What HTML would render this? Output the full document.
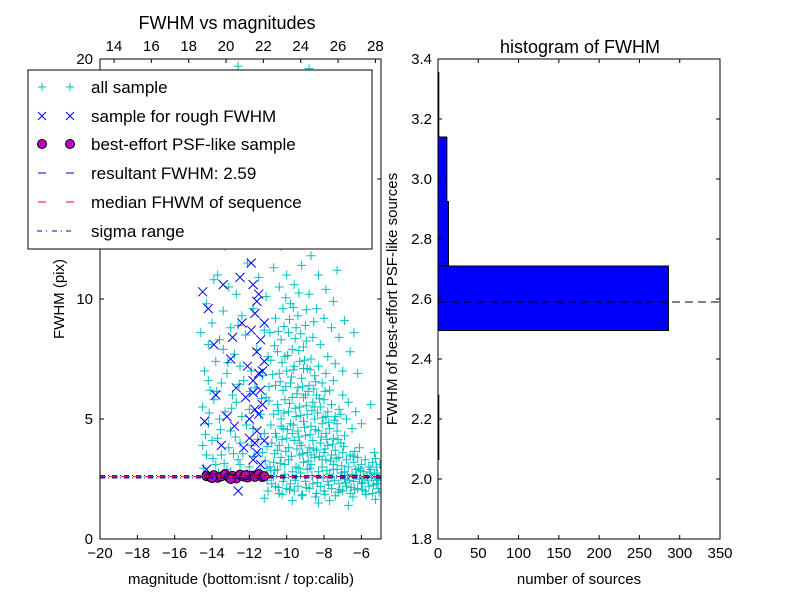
<!DOCTYPE html>
<html><head><meta charset="utf-8"><style>
body{margin:0;background:#fff;}
svg text{font-family:"Liberation Sans","DejaVu Sans",sans-serif;}
</style></head><body>
<svg id="fig" width="800" height="600" xmlns="http://www.w3.org/2000/svg">
<rect width="800" height="600" fill="#fff"/>
<g id="left"></g>
<g id="right"></g>
</svg>
<script>
// ---------- data ----------
const allSample = [
[-14.4,2.6],[-14.3,3.5],[-14.2,4.8],[-14.5,5.5],[-14.1,6.2],[-14.4,7.0],[-14.2,8.1],[-14.0,9.0],[-14.3,9.8],[-13.9,10.8],
[-13.8,3.1],[-13.7,4.2],[-13.6,5.0],[-13.9,5.8],[-13.5,6.5],[-13.8,7.4],[-13.6,8.3],[-13.4,9.5],[-13.7,11.0],[-13.3,12.2],
[-13.2,2.9],[-13.1,3.8],[-13.0,4.5],[-13.3,5.3],[-12.9,6.0],[-13.2,6.9],[-12.8,7.7],[-13.0,8.8],[-12.7,10.2],[-12.9,13.0],
[-12.6,3.3],[-12.5,4.0],[-12.4,5.1],[-12.7,5.7],[-12.3,6.6],[-12.5,7.2],[-12.2,8.5],[-12.4,9.3],[-12.1,11.5],[-12.3,14.2],
[-12.0,3.0],[-11.9,3.9],[-11.8,4.6],[-12.0,5.4],[-11.7,6.3],[-11.9,7.0],[-11.6,7.9],[-11.8,9.6],[-11.5,10.9],[-11.7,12.8],
[-11.4,2.8],[-11.3,3.6],[-11.2,4.4],[-11.4,5.2],[-11.1,5.9],[-11.3,6.8],[-11.0,7.6],[-11.2,8.7],[-11.1,10.1],[-11.3,15.0],
[-14.5,3.9],[-14.0,4.1],[-13.5,3.5],[-13.0,2.8],[-12.5,3.1],[-14.2,6.6],[-13.4,7.9],[-12.6,8.9],[-14.6,8.6],[-13.1,10.5],
[-11.0,2.0],[-10.8,2.3],[-10.6,2.2],[-10.4,1.9],[-10.2,2.4],[-10.0,2.1],[-9.8,2.3],[-9.6,2.0],[-9.4,2.2],[-9.2,1.8],
[-9.0,2.4],[-8.8,2.1],[-8.6,2.3],[-8.4,1.9],[-8.2,2.2],[-8.0,2.0],[-7.8,2.4],[-7.6,2.1],[-7.4,1.8],[-7.2,2.3],
[-7.0,2.0],[-6.8,2.2],[-6.6,1.9],[-6.4,2.4],[-6.2,2.1],[-6.0,2.3],[-5.8,2.0],[-5.6,2.2],[-5.4,1.9],[-5.2,2.3],
[-10.9,3.0],[-10.7,3.2],[-10.5,2.9],[-10.3,3.4],[-10.1,3.1],[-9.9,3.3],[-9.7,2.8],[-9.5,3.0],[-9.3,3.5],[-9.1,3.2],
[-8.9,2.9],[-8.7,3.1],[-8.5,3.4],[-8.3,2.8],[-8.1,3.0],[-7.9,3.3],[-7.7,2.7],[-7.5,3.1],[-7.3,2.9],[-7.1,2.6],
[-6.9,2.8],[-6.7,3.0],[-6.5,2.7],[-6.3,2.9],[-6.1,2.5],[-5.9,2.8],[-5.7,2.6],[-5.5,2.9],[-5.3,2.7],[-5.1,2.5],
[-10.8,4.0],[-10.6,4.4],[-10.4,3.9],[-10.2,4.6],[-10.0,4.2],[-9.8,4.8],[-9.6,4.1],[-9.4,4.5],[-9.2,3.9],[-9.0,4.3],
[-8.8,3.8],[-8.6,4.1],[-8.4,3.7],[-8.2,4.0],[-8.0,3.6],[-7.8,3.9],[-7.6,3.5],[-7.4,3.7],[-7.2,3.4],[-7.0,3.6],
[-6.8,3.3],[-6.6,3.5],[-6.4,3.2],[-6.2,3.4],[-6.0,3.1],[-5.8,3.3],[-5.6,3.0],[-5.4,3.2],[-5.2,3.0],[-5.0,3.1],
[-10.7,5.2],[-10.5,5.6],[-10.3,5.0],[-10.1,5.8],[-9.9,5.3],[-9.7,5.9],[-9.5,5.1],[-9.3,5.5],[-9.1,4.9],[-8.9,5.2],
[-8.7,4.7],[-8.5,5.0],[-8.3,4.5],[-8.1,4.8],[-7.9,4.4],[-7.7,4.6],[-7.5,4.2],[-7.3,4.5],[-7.1,4.0],[-6.9,4.3],
[-10.6,6.4],[-10.4,6.9],[-10.2,6.2],[-10.0,7.0],[-9.8,6.5],[-9.6,7.2],[-9.4,6.3],[-9.2,6.7],[-9.0,6.0],[-8.8,6.4],
[-8.6,5.7],[-8.4,6.0],[-8.2,5.5],[-8.0,5.8],[-7.8,5.3],[-7.6,5.6],[-7.4,5.1],[-7.2,5.4],[-6.8,5.0],[-6.5,4.6],
[-10.5,7.8],[-10.3,8.3],[-10.1,7.6],[-9.9,8.6],[-9.7,7.9],[-9.5,8.8],[-9.3,7.4],[-9.1,8.0],[-8.9,7.1],[-8.7,7.5],
[-8.5,6.8],[-8.3,7.2],[-8.1,6.5],[-7.9,6.9],[-7.7,6.2],[-7.5,6.6],[-7.0,6.0],[-6.7,5.7],[-6.3,5.3],[-6.0,4.8],
[-10.6,9.2],[-10.2,9.6],[-9.8,9.8],[-9.4,9.3],[-9.0,8.9],[-8.6,8.4],[-8.2,8.1],[-7.8,7.6],[-7.4,7.3],[-7.0,7.0],
[-10.4,10.5],[-10.0,11.0],[-9.6,10.6],[-9.2,11.4],[-8.8,10.2],[-8.4,9.6],[-8.0,9.2],[-7.6,8.8],[-7.2,8.4],[-6.6,7.8],
[-10.3,12.2],[-9.9,12.8],[-9.5,13.3],[-9.1,12.5],[-8.7,11.8],[-8.3,11.0],[-7.9,10.4],[-7.5,9.9],[-6.9,9.1],[-6.4,8.6],
[-10.1,14.5],[-9.7,15.3],[-9.3,14.1],[-8.9,13.6],[-8.5,13.0],[-8.1,12.4],[-9.4,16.5],[-8.6,17.2],[-9.0,18.4],[-8.8,19.6],
[-10.8,16.0],[-11.5,18.8],[-12.0,17.5],[-13.0,16.3],[-14.2,19.0],[-12.6,19.7],[-7.9,14.6],[-7.3,11.2],[-6.2,6.9],[-5.5,5.6],
[-10.9,8.6],[-10.7,11.3],[-10.9,13.2],[-10.5,3.7],[-9.9,3.8],[-9.3,4.0],[-8.7,3.5],[-8.1,3.3],[-7.5,2.9],[-6.9,2.5],
[-10.3,4.7],[-9.7,4.4],[-9.1,5.9],[-8.5,5.5],[-7.9,5.1],[-7.3,4.8],[-8.9,3.6],[-9.5,2.6],[-10.1,2.7],[-10.7,2.6],
[-8.3,1.5],[-7.7,1.6],[-6.7,1.4],[-9.7,1.6],[-11.2,1.7],[-5.3,3.6],[-5.1,2.1],[-6.1,3.8],[-7.1,5.2],[-9.1,7.1]
];
const allSampleDense = [
[-10.45,2.15],[-10.15,2.55],[-9.85,2.05],[-9.55,2.45],[-9.25,2.75],[-8.95,2.15],[-8.65,2.65],[-8.35,2.35],[-8.05,2.55],[-7.75,2.25],
[-7.45,2.45],[-7.15,2.05],[-6.85,2.35],[-6.55,2.15],[-6.25,2.65],[-5.95,2.35],[-5.65,2.45],[-5.35,2.25],[-5.15,2.75],[-5.05,1.95],
[-10.35,3.15],[-10.05,3.65],[-9.75,3.45],[-9.45,3.75],[-9.15,3.55],[-8.85,3.25],[-8.55,3.75],[-8.25,3.45],[-7.95,3.75],[-7.65,3.25],
[-7.35,3.35],[-7.05,3.05],[-6.75,2.65],[-6.45,3.45],[-6.15,2.95],[-5.85,2.55],[-5.55,2.75],[-5.25,3.35],[-6.95,3.85],[-6.35,3.65],
[-10.55,4.25],[-10.25,4.15],[-9.95,4.55],[-9.65,4.75],[-9.35,4.25],[-9.05,4.65],[-8.75,4.35],[-8.45,4.55],[-8.15,4.25],[-7.85,4.15],
[-7.55,3.95],[-7.25,4.15],[-10.45,5.35],[-10.15,5.25],[-9.85,5.65],[-9.55,5.45],[-9.25,5.15],[-8.95,5.55],[-8.65,5.35],[-8.35,5.25],
[-8.05,5.05],[-7.75,4.85],[-7.45,4.95],[-10.35,6.55],[-10.05,6.35],[-9.75,6.75],[-9.45,6.05],[-9.15,6.35],[-8.85,6.15],[-8.55,6.25],
[-8.25,5.85],[-7.95,6.15],[-10.25,7.35],[-9.95,7.65],[-9.65,7.05],[-9.35,7.85],[-9.05,7.45],[-8.75,7.05],[-8.45,6.55],[-10.45,8.65],
[-10.15,8.85],[-9.85,9.15],[-9.55,8.35],[-9.25,8.55],[-8.95,8.25],[-10.05,10.05],[-9.65,9.65],[-9.35,10.25],[-8.95,9.55],[-8.55,9.05],
[-11.05,2.45],[-10.85,2.85],[-10.65,3.55],[-10.85,4.75],[-10.95,5.75],[-10.75,6.85],[-10.85,7.45],[-10.65,8.05],[-11.05,3.85],[-10.95,6.35],
[-14.35,4.35],[-14.15,5.25],[-13.95,3.35],[-13.75,6.15],[-13.55,4.55],[-13.35,3.15],[-13.15,7.35],[-12.95,5.45],[-12.75,4.25],[-12.55,6.45],
[-12.35,3.55],[-12.15,4.75],[-11.95,6.15],[-11.75,3.45],[-11.55,4.15],[-11.35,5.85],[-11.15,3.25],[-14.45,2.95],[-13.65,2.75],[-12.85,3.55],
[-9.15,1.85],[-8.45,1.75],[-7.25,1.95],[-6.45,1.75],[-5.75,1.85],[-5.25,1.65],[-6.05,2.85],[-5.45,2.55],[-7.95,1.85],[-10.25,1.85],
[-8.75,2.95],[-7.85,2.85],[-7.05,2.75],[-6.65,2.45],[-6.35,2.05],[-5.95,2.05],[-5.15,2.45],[-9.35,2.95],[-10.65,2.85],[-11.05,2.95]
];
const roughSample = [
[-14.5,10.3],[-14.4,4.9],[-14.3,2.9],[-14.2,9.6],[-13.9,8.1],[-13.8,6.0],[-13.5,3.9],[-13.4,10.6],[-13.2,5.1],[-13.0,7.5],
[-12.9,8.4],[-12.8,4.7],[-12.7,6.3],[-12.6,2.0],[-12.5,10.9],[-12.4,9.0],[-12.3,3.8],[-12.2,5.9],[-12.1,7.2],[-12.0,4.2],
[-11.9,11.5],[-11.9,8.7],[-11.8,6.6],[-11.8,3.3],[-11.7,9.4],[-11.7,5.4],[-11.6,7.8],[-11.6,4.5],[-11.5,10.2],[-11.5,6.9],
[-11.4,3.1],[-11.4,8.3],[-11.3,5.6],[-11.3,12.8],[-11.2,4.1],[-11.2,7.4],[-11.6,9.9],[-11.8,6.1],[-12.0,5.0],[-11.5,5.2],
[-11.4,6.2],[-11.7,4.0],[-11.3,7.0],[-11.9,2.7],[-11.2,9.0],[-11.6,3.6],[-12.1,13.6],[-11.8,10.6]
];
const psfMag = [-14.3,-14.1,-13.9,-13.7,-13.5,-13.3,-13.1,-12.9,-12.7,-12.5,-12.3,-12.1,-11.9,-11.7,-11.5,-11.3,-11.2,-13.0,-12.2,-14.0];
const psfFwhm = [2.62,2.58,2.66,2.55,2.61,2.70,2.57,2.63,2.52,2.68,2.60,2.56,2.64,2.59,2.71,2.58,2.62,2.50,2.66,2.54];
const resultFwhm = 2.59;
const medianFwhm = 2.60;
const sigmaRange = [2.54, 2.64];
const histCounts = [1,0,286,13,11,1];
const histEdges = [2.065,2.28,2.495,2.71,2.925,3.14,3.355];
const xTicksBottom = [-20,-18,-16,-14,-12,-10,-8,-6];
const xTicksTop = [14,16,18,20,22,24,26,28];
const yTicksLeft = [0,5,10,15,20];
const xTicksHist = [0,50,100,150,200,250,300,350];
const yTicksHist = [1.8,2.0,2.2,2.4,2.6,2.8,3.0,3.2,3.4];
const calibOffset = 33.25;

// ---------- helpers ----------
const NS='http://www.w3.org/2000/svg';
function mk(tag,attrs,parent){const e=document.createElementNS(NS,tag);for(const k in attrs)e.setAttribute(k,attrs[k]);parent.appendChild(e);return e;}
const L=document.getElementById('left'), R=document.getElementById('right');
const lx0=100,lx1=381,ly0=59,ly1=539, xmin=-20, xmax=-4.95, ymin=0, ymax=20;
const sx=v=>lx0+(v-xmin)/(xmax-xmin)*(lx1-lx0);
const sy=v=>ly1-(v-ymin)/(ymax-ymin)*(ly1-ly0);
const clip=mk('clipPath',{id:'lc'},L); mk('rect',{x:lx0,y:ly0,width:lx1-lx0,height:ly1-ly0},clip);
const pts=mk('g',{'clip-path':'url(#lc)'},L);
for(const [x,y] of allSample.concat(allSampleDense)){
  const g=mk('path',{d:`M${sx(x)-4.5},${sy(y)}h9M${sx(x)},${sy(y)-4.5}v9`,stroke:'#00bfbf','stroke-width':1},pts);
  
  
}
for(const [x,y] of roughSample){
  const g=mk('path',{d:`M${sx(x)-4.5},${sy(y)-4.5}l9,9M${sx(x)-4.5},${sy(y)+4.5}l9,-9`,stroke:'#0000ff','stroke-width':1},pts);
  
  
}
psfMag.forEach((x,i)=>{
  const c=mk('circle',{cx:sx(x),cy:sy(psfFwhm[i]),r:4.5,fill:'#bf00bf',stroke:'#000','stroke-width':1},pts);
  
  
});
let ln=mk('line',{x1:lx0,x2:lx1,y1:sy(resultFwhm),y2:sy(resultFwhm),stroke:'#0000ff','stroke-dasharray':'6,6'},pts);


ln=mk('line',{x1:lx0,x2:lx1,y1:sy(medianFwhm),y2:sy(medianFwhm),stroke:'#ff0000','stroke-dasharray':'6,6','stroke-dashoffset':3},pts);


for(const s of sigmaRange){
  ln=mk('line',{x1:lx0,x2:lx1,y1:sy(s),y2:sy(s),stroke:'#0000bf','stroke-dasharray':'5,3,1,3'},pts);
  
  
}
mk('rect',{x:lx0,y:ly0,width:lx1-lx0,height:ly1-ly0,fill:'none',stroke:'#000'},L);
for(const t of xTicksBottom){const x=sx(t);
  mk('path',{d:`M${x},${ly1}v-4`,stroke:'#000'},L);
  const tx=mk('text',{x:x,y:558,'font-size':15,'text-anchor':'middle'},L);tx.textContent='\u2212'+Math.abs(t);
  
  
}
for(const t of xTicksTop){const x=sx(t-calibOffset);
  mk('path',{d:`M${x},${ly0}v4`,stroke:'#000'},L);
  const tx=mk('text',{x:x,y:51,'font-size':15,'text-anchor':'middle'},L);tx.textContent=t;
  
  
}
for(const t of yTicksLeft){const y=sy(t);
  mk('path',{d:`M${lx0},${y}h4M${lx1},${y}h-4`,stroke:'#000'},L);
  const tx=mk('text',{x:93,y:y+5,'font-size':15,'text-anchor':'end'},L);tx.textContent=t;
  
  
}
const rx0=438,rx1=720,ry0=59,ry1=539;
const hx=v=>rx0+v/350*(rx1-rx0);
const hy=v=>ry1-(v-1.8)/1.6*(ry1-ry0);
histCounts.forEach((c,i)=>{ if(c<=0) return;
  const r=mk('rect',{x:rx0,y:hy(histEdges[i+1]),width:hx(c)-rx0,height:hy(histEdges[i])-hy(histEdges[i+1]),fill:'#0000ff',stroke:'#000','stroke-width':1},R);
  
  
});
ln=mk('line',{x1:rx0,x2:rx1,y1:hy(resultFwhm),y2:hy(resultFwhm),stroke:'#000','stroke-dasharray':'8,5'},R);


mk('rect',{x:rx0,y:ry0,width:rx1-rx0,height:ry1-ry0,fill:'none',stroke:'#000'},R);
for(const t of xTicksHist){const x=hx(t);
  mk('path',{d:`M${x},${ry1}v-4M${x},${ry0}v4`,stroke:'#000'},R);
  const tx=mk('text',{x:x,y:558,'font-size':15,'text-anchor':'middle'},R);tx.textContent=t;
  
  
}
for(const t of yTicksHist){const y=hy(t);
  mk('path',{d:`M${rx0},${y}h4M${rx1},${y}h-4`,stroke:'#000'},R);
  const tx=mk('text',{x:432,y:y+5,'font-size':15,'text-anchor':'end'},R);tx.textContent=t.toFixed(1);
  
  
}
</script>
<svg width="800" height="600" style="position:absolute;left:0;top:0" xmlns="http://www.w3.org/2000/svg">
<text x="227" y="29" font-size="18" text-anchor="middle">FWHM vs magnitudes</text>
<text x="241" y="584" font-size="15" text-anchor="middle">magnitude (bottom:isnt / top:calib)</text>
<text transform="translate(64,299) rotate(-90)" font-size="15" text-anchor="middle">FWHM (pix)</text>
<text x="580" y="53" font-size="18" text-anchor="middle">histogram of FWHM</text>
<text x="579" y="584" font-size="15" text-anchor="middle">number of sources</text>
<text transform="translate(397,299) rotate(-90)" font-size="15" text-anchor="middle">FWHM of best-effort PSF-like sources</text>
<g>
<rect x="28" y="70" width="344" height="179" fill="#fff" stroke="#000"/>
<g><path d="M38,87h8M42,83v8M66,87h8M70,83v8" stroke="#00bfbf"/><text x="91" y="93" font-size="17">all sample</text></g>
<g><path d="M38,112l8,8M38,120l8,-8M66,112l8,8M66,120l8,-8" stroke="#0000ff"/><text x="91" y="122" font-size="17">sample for rough FWHM</text></g>
<g><circle cx="42" cy="144" r="4.5" fill="#bf00bf" stroke="#000"/><circle cx="70" cy="144" r="4.5" fill="#bf00bf" stroke="#000"/><text x="91" y="150" font-size="17">best-effort PSF-like sample</text></g>
<g><path d="M38,173h8M66,173h8" stroke="#0000ff"/><text x="91" y="179" font-size="17">resultant FWHM: 2.59</text></g>
<g><path d="M38,202h8M66,202h8" stroke="#ff0000"/><text x="91" y="208" font-size="17">median FHWM of sequence</text></g>
<g><path d="M37,231h5M46,231h1M52,231h5M61,231h1M66,231h5" stroke="#0000bf"/><text x="91" y="237" font-size="17">sigma range</text></g>
</g>
</svg>
</body></html>
